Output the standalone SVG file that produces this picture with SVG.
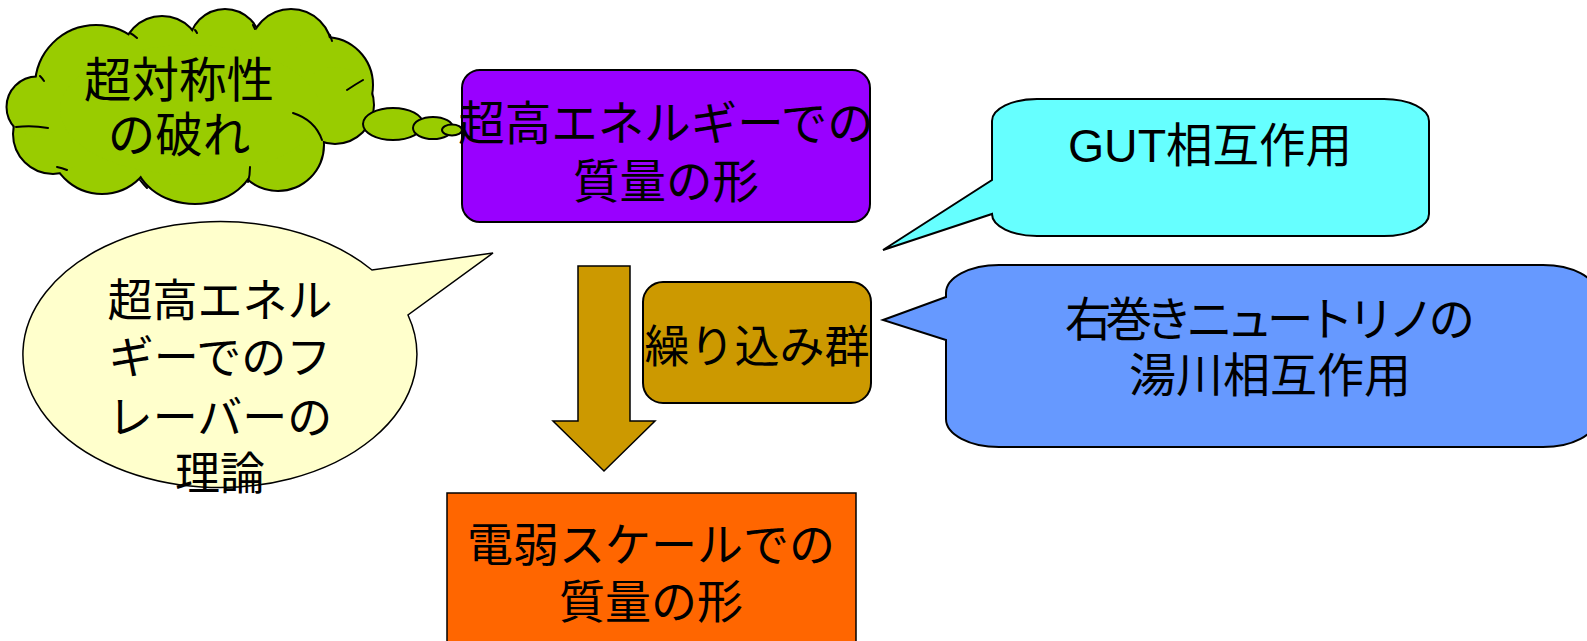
<svg xmlns="http://www.w3.org/2000/svg" width="1587" height="641" viewBox="0 0 1587 641">
<style>
.t{font-family:"Noto Sans CJK JP","Liberation Sans",sans-serif;font-size:45px;fill:#000;text-anchor:middle}
.lat{font-family:"Liberation Sans","Noto Sans CJK JP",sans-serif}
.sk{stroke:#000;stroke-width:2}
.cl{fill:#99CC00}
.arc{fill:none;stroke:#000;stroke-width:2;stroke-linecap:round}
</style>
<rect width="1587" height="641" fill="#fff"/>
<g id="cloud">
  <g class="cl" stroke="#000" stroke-width="4">
    <circle cx="96" cy="86" r="60"/>
    <circle cx="162" cy="56" r="39"/>
    <circle cx="225" cy="45" r="35"/>
    <circle cx="291" cy="50" r="40"/>
    <circle cx="325" cy="85" r="47"/>
    <circle cx="335" cy="105" r="38"/>
    <circle cx="278" cy="145" r="45"/>
    <ellipse cx="195" cy="155" rx="60" ry="48"/>
    <circle cx="102" cy="141" r="52"/>
    <circle cx="53" cy="134" r="39"/>
    <circle cx="37" cy="107" r="29.5"/>
  </g>
  <g class="cl">
    <circle cx="96" cy="86" r="60"/>
    <circle cx="162" cy="56" r="39"/>
    <circle cx="225" cy="45" r="35"/>
    <circle cx="291" cy="50" r="40"/>
    <circle cx="325" cy="85" r="47"/>
    <circle cx="335" cy="105" r="38"/>
    <circle cx="278" cy="145" r="45"/>
    <ellipse cx="195" cy="155" rx="60" ry="48"/>
    <circle cx="102" cy="141" r="52"/>
    <circle cx="53" cy="134" r="39"/>
    <circle cx="37" cy="107" r="29.5"/>
    <ellipse cx="190" cy="110" rx="130" ry="65"/>
  </g>
  <path class="arc" d="M40,76 Q42,78 44,81 M16,127 Q32,125 48,128 M57,167 Q62,168 67,170 M140,180 Q143,184 147,188 M250,167 Q250,175 248,182 M293,113 Q315,120 322,140 M347,90 Q356,84 363,80 M330,35 Q331,38 332,41 M253,25 Q254,27 255,29 M195,30 Q196,31 197,33 M130,33 Q134,35 137,38"/>
  <text class="t" x="179" y="97" style="font-size:47.5px">超対称性</text>
  <text class="t" x="179" y="152" style="font-size:47.5px">の破れ</text>
</g>
<g id="bubbles" class="cl sk">
  <ellipse cx="393" cy="124" rx="30" ry="16"/>
  <ellipse cx="433" cy="128" rx="20" ry="11"/>
  <ellipse cx="452" cy="130" rx="10" ry="5.5"/>
</g>
<g id="high-energy">
  <rect x="462" y="70" width="408" height="152" rx="18" fill="#9900FF" class="sk"/>
  <text class="t" x="666" y="140" style="font-size:46.5px">超高エネルギーでの</text>
  <text class="t" x="666" y="198" style="font-size:46.5px">質量の形</text>
</g>
<g id="gut">
  <path d="M1037,99 H1384 A45,22 0 0 1 1429,121 V214 A45,22 0 0 1 1384,236 H1037 A45,22 0 0 1 992,214 L883,250 L992,180 V121 A45,22 0 0 1 1037,99 Z" fill="#66FFFF" class="sk"/>
  <text class="t lat" x="1210" y="162" style="font-size:46.5px">GUT相互作用</text>
</g>
<g id="flavor">
  <path d="M408,315 A197,133 0 1 1 372,270 L493,253 Z" fill="#FFFFCC" stroke="#000" stroke-width="1.5"/>
  <text class="t" x="220" y="317">超高エネル</text>
  <text class="t" x="220" y="374">ギーでのフ</text>
  <text class="t" x="220" y="434">レーバーの</text>
  <text class="t" x="220" y="490">理論</text>
</g>
<g id="connectors">
  <polygon points="578,266 630,266 630,421 655,421 604,471 553,421 578,421" fill="#CC9900" stroke="#000" stroke-width="1.5"/>
</g>
<g id="rg">
  <rect x="643" y="282" width="228" height="121" rx="20" fill="#CC9900" class="sk"/>
  <text class="t" x="757" y="363">繰り込み群</text>
</g>
<g id="yukawa">
  <path d="M999,265 H1543 A53,28 0 0 1 1596,293 V419 A53,28 0 0 1 1543,447 H999 A53,28 0 0 1 946,419 V340 L883,320 L946,297 V293 A53,28 0 0 1 999,265 Z" fill="#6699FF" class="sk"/>
  <text class="t" x="1270" y="336" textLength="410" lengthAdjust="spacing" style="font-size:46.5px">右巻きニュートリノの</text>
  <text class="t" x="1270" y="392" style="font-size:47px">湯川相互作用</text>
</g>
<g id="electroweak">
  <rect x="447" y="493" width="409" height="170" fill="#FF6600" stroke="#000" stroke-width="1.5"/>
  <text class="t" x="651" y="561" style="font-size:46px">電弱スケールでの</text>
  <text class="t" x="651" y="618" style="font-size:46px">質量の形</text>
</g>
</svg>
